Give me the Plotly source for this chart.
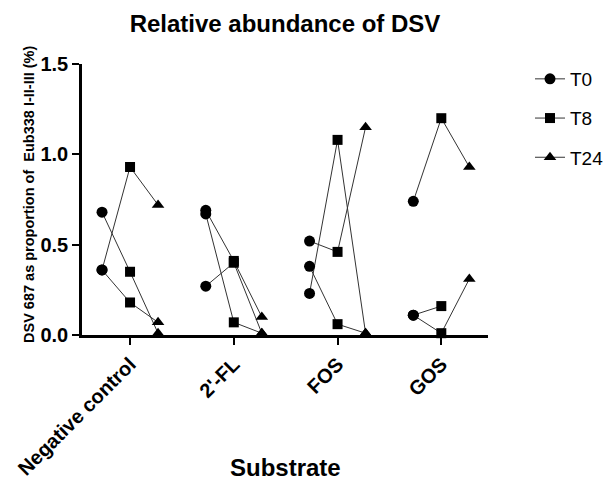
import plotly.graph_objects as go

categories = ["Negative control", "2'-FL", "FOS", "GOS"]
time_points = ["T0", "T8", "T24"]
# values per substrate, one entry per replicate
t0_values = [[0.68, 0.36, 0.36], [0.69, 0.27, 0.67], [0.52, 0.23, 0.38], [0.74, 0.11, 0.11]]
t8_values = [[0.35, 0.93, 0.18], [0.41, 0.40, 0.07], [0.46, 1.08, 0.06], [1.20, 0.01, 0.16]]
t24_values = [[0.01, 0.72, 0.07], [0.10, 0.01, 0.01], [1.15, 0.01, 0.01], [0.93, 0.31, None]]
y_ticks = [0.0, 0.5, 1.0, 1.5]

# layout / style constants
offsets = [-0.27, 0.0, 0.27]
symbols = ["circle", "square", "triangle-up"]
FONT = "Arial, 'Liberation Sans', Helvetica, sans-serif"

series = [t0_values, t8_values, t24_values]

fig = go.Figure()

# replicate connecting lines
for g, cat in enumerate(categories):
    for r in range(len(t0_values[g])):
        xs, ys = [], []
        for k in range(3):
            v = series[k][g][r]
            if v is not None:
                xs.append(g + offsets[k])
                ys.append(v)
        fig.add_trace(go.Scatter(
            x=xs, y=ys, mode="lines",
            line=dict(color="#333333", width=1),
            showlegend=False, hoverinfo="skip", cliponaxis=False))

# markers per time point
for k, tp in enumerate(time_points):
    xs, ys = [], []
    for g in range(len(categories)):
        for v in series[k][g]:
            if v is not None:
                xs += [g + offsets[k], None]
                ys += [v, None]
    fig.add_trace(go.Scatter(
        x=xs, y=ys, mode="lines+markers", name=tp,
        legendgroup=tp, connectgaps=False,
        line=dict(color="#333333", width=1),
        marker=dict(symbol=symbols[k], color="black", size=11 if k != 1 else 10),
        cliponaxis=False))

fig.update_layout(
    width=609, height=483,
    margin=dict(l=82, r=121, t=64, b=148),
    paper_bgcolor="white", plot_bgcolor="white",
    font=dict(family=FONT, color="black"),
    title=dict(text="Relative abundance of DSV", x=0.468, xanchor="center",
               y=0.952, yref="container", yanchor="middle",
               font=dict(size=24, weight="bold", family=FONT)),
    showlegend=True,
    legend=dict(x=530 / 609, xref="container", xanchor="left",
                y=1 - 60 / 483, yref="container", yanchor="top",
                font=dict(size=19, family=FONT), tracegroupgap=11.5,
                traceorder="grouped", bgcolor="rgba(0,0,0,0)"),
    xaxis=dict(
        range=[-0.463, 3.45], tickvals=list(range(len(categories))),
        ticktext=categories, tickangle=-45, automargin=False,
        tickfont=dict(size=20, weight="bold", family=FONT),
        showline=True, linecolor="black", linewidth=2.5,
        ticks="outside", ticklen=7, tickwidth=2, tickcolor="black",
        showgrid=False, zeroline=False),
    yaxis=dict(
        range=[0, 1.5], tickvals=y_ticks, tickformat=".1f", automargin=False,
        tickfont=dict(size=20, weight="bold", family=FONT),
        showline=True, linecolor="black", linewidth=2.5,
        ticks="outside", ticklen=7, tickwidth=2, tickcolor="black",
        showgrid=False, zeroline=False),
)
# axis titles placed as annotations for exact positioning
fig.add_annotation(text="<b>DSV 687 as proportion of\u00a0 Eub338 I-II-III (%)</b>",
                   xref="paper", yref="paper", textangle=-90,
                   x=(29 - 82) / 406, y=(335 - 195) / 271,
                   xanchor="center", yanchor="middle", showarrow=False,
                   font=dict(size=14.5, family=FONT))
fig.add_annotation(text="<b>Substrate</b>", xref="paper", yref="paper",
                   x=0.5, y=-(467 - 335) / (335 - 64), xanchor="center", yanchor="middle",
                   showarrow=False, font=dict(size=24, family=FONT))

fig.write_html("out.html")
